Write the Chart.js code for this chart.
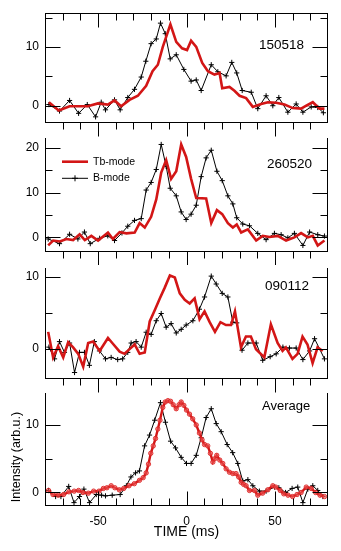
<!DOCTYPE html>
<html>
<head>
<meta charset="utf-8">
<script src="https://cdn.jsdelivr.net/npm/chart.js@4.4.1/dist/chart.umd.min.js"></script>
<style>
  body { margin: 0; background: #fff; width: 341px; height: 551px; position: relative; overflow: hidden; }
  canvas { position: absolute; left: 0; }
</style>
</head>
<body>
<canvas id="c1" width="341" height="140" style="top:0px"></canvas>
<canvas id="c2" width="341" height="140" style="top:125px"></canvas>
<canvas id="c3" width="341" height="140" style="top:255px"></canvas>
<canvas id="c4" width="341" height="171" style="top:380px"></canvas>
<script>
// --- data (time in ms, intensity in arb. units) ---
const p1BlackT = [-77.8,-71.8,-66.1,-61,-56.1,-51.4,-48.2,-45.8,-40.7,-37.5,-33.2,-29.4,-25.6,-23,-20,-17.1,-14.7,-12,-9.2,-5.8,-1.5,2.6,5.5,8.3,14,17.7,22.4,25.6,28.4,31.5,36.6,40.3,45,48.8,52.2,57.3,62,65.8,70.5,74.2,77.4]
const p1BlackV = [0.2,-0.9,0.9,-1.3,0.2,-1.9,0.6,-0.7,1.0,-0.7,1.4,2.8,4.9,7.6,10.6,11.4,14.1,12.3,8.0,8.7,6.2,4.2,4.4,2.6,7.0,5.8,5.1,7.4,5.6,2.6,2.3,-0.5,1.7,0,1.4,-1.1,0.3,-1.1,-0.2,-0.3,-1.2]
const p1RedT = [-77.8,-72.2,-66.1,-60.5,-55.8,-50.1,-44.5,-40.7,-37,-32.2,-27.5,-22.8,-19.2,-16.2,-13.4,-9.1,-5.8,-2.5,0.3,2.6,5.5,8.9,12.1,15.8,18.7,20.2,24.3,27.1,30,33.7,37.5,42.2,46,50.7,55.4,60.1,64.8,67.7,71.4,75.2,78]
const p1RedV = [0.6,-0.8,-0.1,-0.1,-0.1,0.4,0.2,0.9,-0.1,1.0,1.7,3.4,5.9,7.0,10.05,13.9,10.9,9.8,9.5,11.1,10.05,7.3,5.9,5.3,5.6,3.0,3.2,2.55,1.7,1.3,-0.2,0.3,0.6,0.5,0.2,-0.4,-0.5,0.0,0.6,-0.5,-0.5]

const p2BlackT = [-78.2,-71.8,-66.1,-61.4,-57.7,-54.4,-49.1,-44.5,-40.7,-36.5,-33.2,-29.4,-25.6,-22.8,-20,-17.1,-14.3,-11.5,-9.2,-5.8,-3,-0.2,2.6,5.5,8.3,11.1,14,17.2,20.2,23.4,26.2,28.4,31.8,35.6,40.3,45,49.7,53.5,57.3,61,65.8,69.6,74.2,78]
const p2BlackV = [-0.35,-1.4,0.7,-0.35,1.2,-1.4,-0.2,0.35,-0.7,1.0,2.5,3.8,4.2,10.6,12.3,15.2,20.8,15.9,11.0,9.3,5.7,4.0,5.2,7.2,13.6,17.8,19.5,14.8,12.7,9.3,7.5,4.4,3.0,2.6,0.9,-0.5,0.9,0.6,-0.1,0.9,-1.8,1.2,0.6,0.3]
const p2RedT = [-78.2,-75.4,-71.6,-67.9,-64.1,-60.4,-57.5,-53.8,-50,-44.4,-41.6,-37.8,-34,-29.3,-26.5,-23.6,-20,-17.1,-14.3,-11.5,-8.7,-5.8,-3,-0.2,2.6,5.5,11.1,14,17.2,20.2,23.4,26.2,28.4,30.9,34.7,39.4,43.1,46.9,51.6,56.3,61,64.8,68.6,71.4,74.2,78]
const p2RedV = [-1.8,-0.7,-0.9,-0.35,-0.6,0.7,-0.6,0.35,-0.7,1.1,-0.35,1.2,0.9,1.1,3.2,2.2,4.6,8.5,14.5,17.3,13.1,14.8,20.8,18,13.1,8.8,8.7,3.2,6.1,5.2,3.2,2.2,2.9,1.1,1.8,-0.7,0.35,0.1,0.35,-0.7,0,0.95,0,0.35,-1.8,-0.7]

const p3BlackT = [-77.8,-74.6,-71.8,-69,-66.1,-63.3,-60.5,-57.7,-54.9,-52.1,-49.2,-45.8,-42.6,-38.9,-36.1,-33.2,-31.3,-28.5,-25.6,-22.8,-20,-17.1,-14.3,-11.5,-8.7,-5.8,-3,-0.2,3.6,7.3,10.2,14,16.8,20.2,23.4,26.2,28.4,31.4,34.7,39.4,43.1,47.3,50.7,54.5,58.2,62,65.8,69.6,72.4,78]
const p3BlackV = [0.23,-1.4,1.0,-0.5,0.8,-3.3,-0.5,-0.5,-2.3,1.0,-0.3,-1.4,-1.2,-1.5,-1.4,-0.5,0.8,1.0,0.23,2.3,2.0,3.9,4.9,3.0,3.5,2.2,2.7,3.3,3.9,5.5,7.2,10.1,9.0,7.7,7.2,3.7,3.6,-0.2,0.8,0.8,-1.6,-1.1,-0.7,0.23,0.1,0.1,-1.5,-0.3,1.4,-1.4]
const p3RedT = [-78.2,-75.4,-72.6,-69.7,-66.9,-64.1,-61.2,-58.4,-55.6,-52.8,-49.1,-44.4,-41.6,-37.8,-35,-32.2,-29.3,-26.5,-23.6,-20.8,-17.9,-15.1,-12.3,-9.4,-6.6,-3.8,-1,1.8,4.6,7.4,10.2,13.1,16.1,19.2,22.3,25.2,27.4,30.8,33.6,36.4,39.3,44,47.7,51.5,54.3,56.2,59.9,62.8,65.6,68.4,71.3,74.1,77]
const p3RedV = [2.35,-1.2,0.35,-1.2,0.9,0.2,-0.7,-2.5,0.8,1.0,-0.3,1.5,0.7,-0.4,-0.7,-0.05,0.6,-0.7,-0.5,3.8,5.4,7.0,8.5,10.2,9.9,7.7,6.8,6.3,7.0,4.1,5.2,3.7,2.35,3.7,3.3,3.3,5.2,0.2,1.7,1.7,-0.05,-1.2,3.4,0.8,-0.3,0.2,-1.4,-0.7,1.7,0.6,-2.0,0.2,-0.3]

const avgBlackT = [-78,-74,-71,-66.6,-63.6,-60.5,-58,-54.8,-51,-48,-45.8,-42,-37.5,-34,-31.4,-28.8,-26.6,-23.7,-20.9,-18,-14.7,-11.9,-9,-6.2,-3,0,2.6,5.5,8.3,11.1,14,16.8,19.6,23,26.1,29,31.8,34.7,37.5,41.2,45,49.8,52.2,56,59.7,62.9,65.8,68.6,71.4,74.2,77.1]
const avgBlackV = [0.3,-0.6,-0.6,0.9,-1.5,-0.6,0.5,-1.5,-0.3,-0.4,-0.5,-0.4,-0.3,1.0,2.3,2.9,3.2,6.9,8.5,10.7,13.3,10.4,7.6,6.6,5.2,4.3,4.3,5.5,8.1,11.1,12.4,10.2,9.0,7.1,5.9,4.3,1.7,1.9,1.0,0.2,0.2,0.8,0.7,0.0,0.6,0.8,-1.5,0.5,1.0,0.3,-0.6]
const avgRedT = [-78,-75.5,-72.5,-69.5,-66.5,-63.5,-61,-58.5,-55.5,-52.5,-49.5,-47,-45,-42.6,-40.5,-38,-35.5,-32.5,-29.5,-26.6,-24.5,-22.8,-21.5,-20.2,-18.8,-17.5,-16.2,-15,-13.4,-12,-10.5,-9,-7.5,-5.8,-4.2,-3,-1.5,0,1.7,3.5,5.5,7.3,8.8,10.2,12,13.5,14.9,16,17.1,18.8,20.5,22.4,24.3,26.2,28,29.5,30.9,32.3,33.7,35.6,38.4,40.3,43,46,48.8,50.5,53,55,57.4,60,62.5,64.8,67.7,70.5,73,75.5,78]
const avgRedV = [0.3,-0.3,-0.4,-0.3,0.1,0.2,0.3,0.0,-0.1,0.2,0.2,0.6,0.7,1.0,0.7,0.4,0.6,1.0,1.3,1.8,2.2,2.9,4.2,5.8,6.9,8.0,9.4,10.7,12.6,13.4,13.6,13.5,13.0,12.4,13.0,13.4,12.9,12.2,11.6,10.9,10.0,8.8,7.8,7.1,6.9,5.8,4.5,5.0,5.5,4.8,4.3,3.5,3.0,2.8,2.8,2.3,1.5,1.2,1.0,0.3,0.3,-0.4,-0.1,0.4,1.0,0.8,0.3,-0.2,-0.4,-0.6,-0.3,0.0,0.8,0.6,0.0,-0.4,-0.6]

const xTicks = [-50, 0, 50]

const RED = '#d31616'
const FONT = '"Liberation Sans", Arial, Helvetica, sans-serif'
Chart.defaults.font.family = FONT
Chart.defaults.color = '#000'

const pts = (ts, vs) => ts.map((t, i) => ({ x: t, y: vs[i] }))

// box lines and inward/outward tick marks, placed through the chart's scales
const frameTicks = {
  id: 'frame',
  afterDatasetsDraw(chart, args, opts) {
    const { ctx, chartArea: a, scales: { x, y } } = chart
    const L = Math.round(a.left) + 0.5, R = Math.round(a.right) - 0.5
    const T = Math.round(a.top) + 0.5, B = Math.round(a.bottom) - 0.5
    ctx.save()
    ctx.strokeStyle = '#000'
    ctx.lineWidth = 1
    ctx.beginPath()
    ctx.moveTo(L, T - 0.5); ctx.lineTo(L, B + 0.5)
    ctx.moveTo(R, T - 0.5); ctx.lineTo(R, B + 0.5)
    ctx.moveTo(L - 0.5, B); ctx.lineTo(R + 0.5, B)
    if (opts.top) { ctx.moveTo(L - 0.5, T); ctx.lineTo(R + 0.5, T) }
    for (let v = Math.ceil(y.min / 5) * 5; v <= y.max; v += 5) {
      const py = Math.round(y.getPixelForValue(v)) + 0.5
      const len = v % 10 === 0 ? 15 : 7
      ctx.moveTo(L, py); ctx.lineTo(L + len, py)
      ctx.moveTo(R, py); ctx.lineTo(R - len, py)
    }
    for (let t = x.min + 10; t < x.max; t += 10) {
      const px = Math.round(x.getPixelForValue(t)) + 0.5
      const len = t % 50 === 0 ? 14 : 7
      const dir = opts.bottom === 'out' ? 1 : -1
      ctx.moveTo(px, B); ctx.lineTo(px, B + dir * len)
      if (opts.top) { ctx.moveTo(px, T); ctx.lineTo(px, T + len) }
    }
    ctx.stroke()
    ctx.restore()
  }
}

// free text inside the panels and the small key
const notes = {
  id: 'notes',
  afterDraw(chart, args, opts) {
    const { ctx } = chart
    ctx.save()
    ctx.fillStyle = '#000'
    ctx.textBaseline = 'middle'
    for (const n of opts.texts || []) {
      ctx.save()
      ctx.font = `${n.size}px ${FONT}`
      ctx.textAlign = n.align || 'left'
      ctx.translate(n.x, n.y)
      if (n.rotate) ctx.rotate(n.rotate)
      ctx.fillText(n.text, 0, 0)
      ctx.restore()
    }
    for (const k of opts.key || []) {
      const ds = chart.data.datasets[k.dataset]
      ctx.strokeStyle = ds.borderColor
      ctx.lineWidth = ds.borderWidth
      ctx.beginPath(); ctx.moveTo(k.x, k.y); ctx.lineTo(k.x + 26, k.y); ctx.stroke()
      if (ds.pointStyle === 'cross') {
        ctx.lineWidth = 1
        ctx.beginPath()
        ctx.moveTo(k.x + 13, k.y - 3); ctx.lineTo(k.x + 13, k.y + 3)
        ctx.moveTo(k.x + 10, k.y); ctx.lineTo(k.x + 16, k.y)
        ctx.stroke()
      }
      ctx.font = `10.5px ${FONT}`
      ctx.textAlign = 'left'
      ctx.fillText(ds.label, k.x + 31, k.y)
    }
    ctx.restore()
  }
}

function blackSet(ts, vs) {
  return { label: 'B-mode', data: pts(ts, vs), borderColor: '#000', borderWidth: 1,
    pointStyle: 'cross', pointRadius: 2.6, pointBorderWidth: 1, pointBorderColor: '#000', tension: 0 }
}
function redSet(ts, vs, dots) {
  return { label: 'Tb-mode', data: pts(ts, vs), borderColor: RED, borderWidth: dots ? 2.4 : 2.6,
    pointRadius: dots ? 2.2 : 0, pointBorderWidth: 1, pointBorderColor: 'rgba(218,32,32,0.85)',
    pointBackgroundColor: 'rgba(240,95,95,0.55)', tension: 0 }
}

function panel(id, sets, yMin, yMax, pad, frame, texts, key, showX) {
  return new Chart(document.getElementById(id), {
    type: 'line',
    data: { datasets: sets },
    plugins: [frameTicks, notes],
    options: {
      responsive: false,
      animation: false,
      devicePixelRatio: 1,
      layout: { padding: { top: pad.top, bottom: pad.bottom, left: 0, right: 13 } },
      plugins: {
        legend: { display: false },
        tooltip: { enabled: false },
        frame: frame,
        notes: { texts: texts, key: key }
      },
      scales: {
        x: {
          type: 'linear', min: -80, max: 80, display: showX,
          afterFit(s) { if (showX) s.height = 45 },
          grid: { display: false, drawTicks: false },
          border: { display: false },
          ticks: { stepSize: 10, includeBounds: false, autoSkip: false, maxRotation: 0, padding: 8,
            font: { size: 12 }, callback: v => xTicks.includes(v) ? v : '' },
          title: { display: true, text: 'TIME (ms)', font: { size: 14 }, padding: { top: 0, bottom: 10 } }
        },
        y: {
          min: yMin, max: yMax,
          afterFit(s) { s.width = 45 },
          grid: { display: false, drawTicks: false },
          border: { display: false },
          ticks: { stepSize: 5, includeBounds: false, padding: 6, font: { size: 12 },
            callback: v => v % 10 === 0 ? v : '' }
        }
      }
    }
  })
}

panel('c1', [redSet(p1RedT, p1RedV), blackSet(p1BlackT, p1BlackV)], -3.0, 15.8,
  { top: 10, bottom: 16.7 }, { top: true, bottom: 'out' },
  [{ text: '150518', x: 259, y: 45.5, size: 13.5 }], [], false)

panel('c2', [redSet(p2RedT, p2RedV), blackSet(p2BlackT, p2BlackV)], -3.2, 22.2,
  { top: 6.7, bottom: 13.3 }, { top: false, bottom: 'out' },
  [{ text: '260520', x: 267, y: 39.5, size: 13.5 }],
  [{ dataset: 0, x: 62, y: 36.7 }, { dataset: 1, x: 62, y: 53.3 }], false)

panel('c3', [redSet(p3RedT, p3RedV), blackSet(p3BlackT, p3BlackV)], -4.2, 11.2,
  { top: 8, bottom: 16 }, { top: false, bottom: 'out' },
  [{ text: '090112', x: 265, y: 31.7, size: 13.5 }], [], false)

panel('c4', [redSet(avgRedT, avgRedV, true), blackSet(avgBlackT, avgBlackV)], -2.0, 14.7,
  { top: 8, bottom: 0 }, { top: false, bottom: 'in' },
  [{ text: 'Average', x: 262, y: 26.7, size: 13 },
   { text: 'Intensity (arb.u.)', x: 17, y: 77, size: 12.5, align: 'center', rotate: -Math.PI / 2 }], [], true)
</script>
</body>
</html>
